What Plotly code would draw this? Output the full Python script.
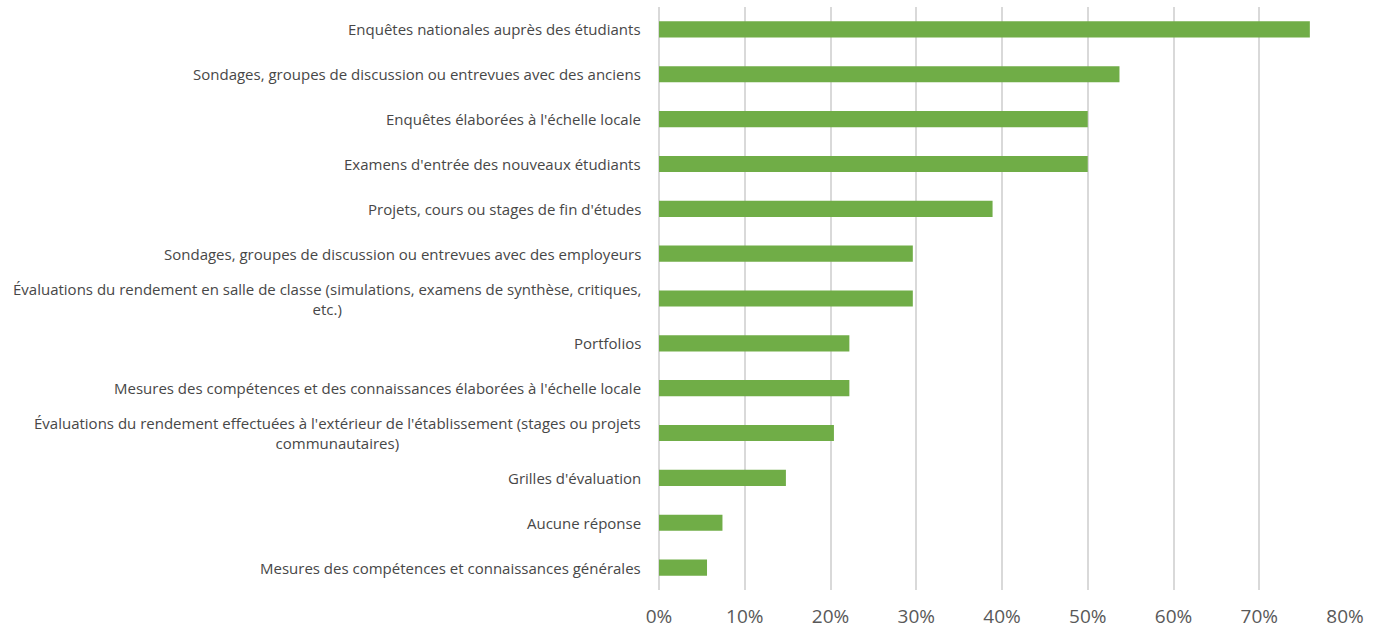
import plotly.graph_objects as go

categories = [
    "Enquêtes nationales auprès des étudiants",
    "Sondages, groupes de discussion ou entrevues avec des anciens",
    "Enquêtes élaborées à l'échelle locale",
    "Examens d'entrée des nouveaux étudiants",
    "Projets, cours ou stages de fin d'études",
    "Sondages, groupes de discussion ou entrevues avec des employeurs",
    "Évaluations du rendement en salle de classe (simulations, examens de synthèse, critiques,<br>etc.)",
    "Portfolios",
    "Mesures des compétences et des connaissances élaborées à l'échelle locale",
    "Évaluations du rendement effectuées à l'extérieur de l'établissement (stages ou projets<br>communautaires)",
    "Grilles d'évaluation",
    "Aucune réponse",
    "Mesures des compétences et connaissances générales",
]
values = [0.759, 0.537, 0.500, 0.500, 0.389, 0.296, 0.296, 0.222, 0.222, 0.204, 0.148, 0.074, 0.056]
tick_vals = [0, 0.1, 0.2, 0.3, 0.4, 0.5, 0.6, 0.7, 0.8]
tick_text = ["0%", "10%", "20%", "30%", "40%", "50%", "60%", "70%", "80%"]

ids = list(range(len(categories)))

fig = go.Figure(
    go.Bar(
        x=values,
        y=ids,
        orientation="h",
        marker=dict(color="#70AD47", line=dict(width=0)),
        width=0.36,
        hoverinfo="skip",
    )
)

# category labels, lines centred within each label block
for i, label in zip(ids, categories):
    fig.add_annotation(
        x=0, xref="paper", y=i, yref="y",
        text=label, showarrow=False,
        xanchor="right", yanchor="middle", align="center",
        xshift=-16,
        font=dict(family="Open Sans", size=15, color="#474747"),
    )

fig.update_layout(
    width=1383, height=633,
    margin=dict(l=659, r=38, t=7, b=43),
    paper_bgcolor="white", plot_bgcolor="white",
    showlegend=False,
)
fig.update_xaxes(
    range=[0, 0.8],
    tickvals=tick_vals, ticktext=tick_text,
    showgrid=True, gridcolor="#D9D9D9", gridwidth=1.5,
    zeroline=True, zerolinecolor="#D9D9D9", zerolinewidth=1.5,
    showline=False, ticks="",
    automargin=False,
    ticklabelstandoff=13,
    tickfont=dict(family="Open Sans", size=19, color="#595959"),
)
fig.update_yaxes(
    range=[len(categories) - 0.5, -0.5],
    showticklabels=False, showgrid=False, zeroline=False, ticks="",
    automargin=False,
)

fig.write_html("out.html")
